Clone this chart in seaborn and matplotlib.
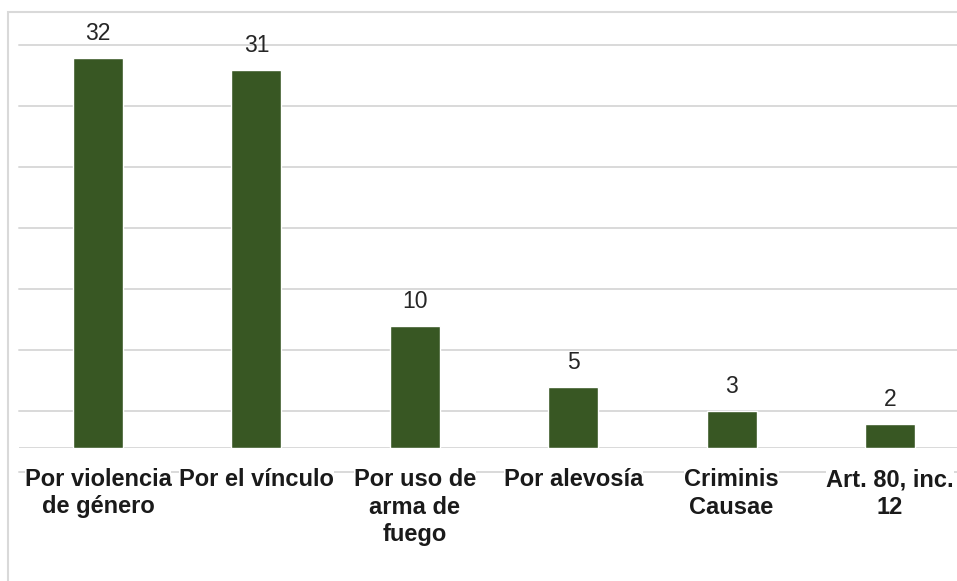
import matplotlib
matplotlib.use("Agg")
import matplotlib.pyplot as plt
from matplotlib.patches import Rectangle
import seaborn as sns
import pandas as pd

# Data
categories = [
    "Por violencia\nde género",
    "Por el vínculo",
    "Por uso de\narma de\nfuego",
    "Por alevosía",
    "Criminis\nCausae",
    "Art. 80, inc.\n12",
]
values = [32, 31, 10, 5, 3, 2]
grid_levels = [-2, 3, 8, 13, 18, 23, 28, 33]

sns.set_theme(style="white")
plt.rcParams["font.family"] = ["Liberation Sans", "DejaVu Sans"]

W, H = 957, 581
fig = plt.figure(figsize=(W / 100, H / 100), dpi=100)
fig.patch.set_facecolor("white")

# Plot area: baseline at y=448 px, ~12.2 px per unit, categories 158.4 px apart
y_top = 35.5
px_per_unit = 12.2
top_px = 448 - y_top * px_per_unit
left_px, right_px = 18.8, 18.8 + 6 * 158.4
ax = fig.add_axes([left_px / W, (H - 448) / H, (right_px - left_px) / W, (448 - top_px) / H])

df = pd.DataFrame({"categoria": categories, "casos": values})
sns.barplot(data=df, x="categoria", y="casos", color="#385723", saturation=1,
            width=0.316, ax=ax, zorder=3)

ax.set_xlim(-0.5, 5.5)
ax.set_ylim(0, y_top)
ax.set_axisbelow(False)

grid_color = "#d9d9d9"
for g in grid_levels:
    ax.axhline(g, color=grid_color, lw=1.4, zorder=1, clip_on=False)
ax.axhline(0, color=grid_color, lw=1.4, zorder=2)

for s in ax.spines.values():
    s.set_visible(False)
ax.set_yticks([])
ax.set_xlabel("")
ax.set_ylabel("")
ax.tick_params(axis="x", length=0, pad=14.4)
ax.set_xticks(range(len(categories)))
ax.set_xticklabels(categories, fontsize=17, fontweight="bold", color="#1a1a1a",
                   linespacing=1.25)
for lab in ax.get_xticklabels():
    lab.set_bbox(dict(facecolor="white", edgecolor="none", pad=0))

for i, v in enumerate(values):
    ax.annotate(str(v), xy=(i, v), xytext=(0, 13), textcoords="offset points",
                ha="center", va="baseline", fontsize=16.5, color="#262626")

# Outer chart frame (left and top edges visible)
fig.add_artist(Rectangle((8 / W, -0.2), 1.5, (H - 12) / H + 0.2,
                         transform=fig.transFigure, fill=False,
                         edgecolor=grid_color, lw=1.5))

fig.savefig("out.png", dpi=100)
